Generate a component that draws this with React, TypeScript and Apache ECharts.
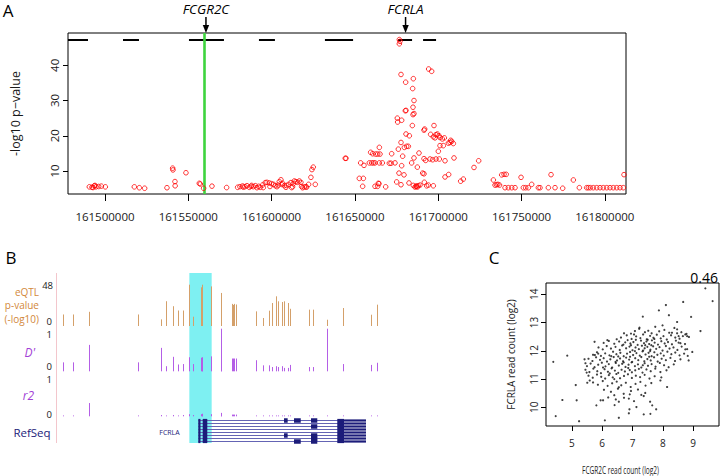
import React, { useEffect, useRef } from "react";
import * as echarts from "echarts";

const FONT = "'Open Sans', 'Liberation Sans', sans-serif";

// ---------- Panel A ----------
const A_XMIN = 161477800;
const A_XMAX = 161812700;
const A_YMIN = 3.47;
const A_YMAX = 49.17;
const aXTicks = [161500000, 161550000, 161600000, 161650000, 161700000, 161750000, 161800000];
const aYTicks = [10, 20, 30, 40];
const geneStarts = [161477800, 161510800, 161550400, 161592400, 161632000, 161675900, 161690900];
const geneEnds = [161489800, 161520400, 161571400, 161602000, 161648900, 161684300, 161698700];
const GENE_Y = 47.18;
const FCGR2C_POS = 161560600;
const FCRLA_POS = 161680400;
const GREEN_POS = 161559400;

const aPoints: number[][] = [
  [161490600, 5.5], [161492200, 5.4], [161493600, 5.8], [161494600, 5.5], [161496200, 5.6], [161497800, 5.7],
  [161500200, 5.5], [161494000, 5.9], [161492800, 5.3],
  [161517600, 5.5], [161520600, 5.25], [161523800, 5.1],
  [161537200, 5.25], [161540600, 10.8], [161540800, 10.3], [161542000, 7.0], [161542100, 5.8], [161548600, 9.5],
  [161556600, 6.5], [161557200, 6.3], [161559200, 5.1], [161564200, 5.7], [161573000, 5.3],
  [161579600, 5.37], [161581000, 5.55], [161582600, 5.74], [161584000, 5.55], [161585200, 5.83], [161586600, 5.37],
  [161587600, 5.65], [161589000, 5.55], [161590200, 5.83], [161591200, 5.26], [161592200, 5.65], [161593200, 5.37],
  [161594600, 6.03], [161596200, 6.7], [161597200, 6.78], [161598600, 6.6], [161600000, 6.4], [161601200, 6.2],
  [161602200, 5.83], [161603200, 5.55], [161604600, 6.97], [161605600, 7.5], [161606600, 6.5], [161607600, 5.83],
  [161608600, 5.37], [161610200, 6.2], [161611600, 6.7], [161612600, 5.55], [161613600, 7.16], [161614600, 6.97],
  [161615600, 6.78], [161616600, 7.16], [161617600, 6.78], [161618600, 5.26], [161619600, 5.46], [161620600, 5.55],
  [161622200, 6.2], [161623600, 8.2], [161624200, 10.4], [161625000, 11.1], [161626200, 6.2],
  [161583000, 5.4], [161588000, 5.9], [161595000, 5.3], [161599000, 5.6], [161606000, 6.2], [161609000, 5.9],
  [161612000, 5.3], [161618000, 5.6], [161621000, 5.4], [161613000, 6.4], [161604000, 6.0],
  [161644200, 13.6],
  [161676660, 47.3], [161677060, 46.8], [161676660, 46.1],
  [161677660, 37.4], [161694260, 38.95], [161696065, 38.3], [161680460, 35.2], [161685060, 36.2], [161684660, 33.4],
  [161685460, 30.0], [161684860, 28.1], [161680260, 27.1], [161680660, 27.2], [161684860, 26.0], [161685460, 26.3],
  [161675450, 25.0], [161678060, 24.4], [161675650, 23.9], [161684460, 22.9], [161691860, 21.9], [161691460, 21.6],
  [161697460, 22.9], [161680660, 20.5], [161682660, 20.0], [161695460, 20.4], [161697060, 19.7], [161698660, 20.3],
  [161699460, 20.5], [161700460, 20.0], [161698060, 19.4], [161701060, 19.5], [161702470, 19.1], [161703670, 19.4],
  [161677660, 18.1], [161679660, 16.7], [161681060, 17.0], [161682060, 17.0], [161664655, 16.7], [161676060, 16.2],
  [161706070, 17.9], [161707070, 18.1], [161708070, 18.4], [161709070, 17.8], [161707470, 18.7], [161701060, 17.2],
  [161703070, 17.2], [161700060, 15.6], [161659450, 15.3], [161660655, 14.9], [161662455, 14.8], [161663655, 14.8],
  [161665055, 14.8], [161672060, 14.9], [161688460, 15.1], [161644650, 13.6], [161678660, 14.2], [161685460, 13.7],
  [161691460, 13.5], [161692460, 13.0], [161695060, 13.4], [161698660, 13.4], [161700660, 13.4], [161696660, 13.2],
  [161704070, 12.9], [161709470, 13.7], [161653450, 12.3], [161655450, 11.6], [161658650, 12.3], [161660055, 12.3],
  [161661055, 12.3], [161662055, 12.3], [161664655, 12.3], [161666450, 12.3], [161670660, 12.2], [161671660, 12.2],
  [161674060, 12.3], [161684060, 12.3], [161687460, 11.1], [161678060, 11.5], [161721470, 11.0], [161724280, 12.9],
  [161676460, 9.4], [161679460, 8.9], [161690660, 9.4], [161691460, 9.2], [161706270, 9.0], [161704070, 8.3],
  [161652650, 7.9], [161655050, 7.9], [161654650, 5.65], [161664455, 6.4], [161663655, 5.65], [161662055, 5.65],
  [161668460, 5.5], [161675060, 6.9], [161677660, 6.1], [161682460, 6.6], [161685060, 5.9], [161686660, 5.65],
  [161688060, 5.8], [161689060, 6.0], [161687460, 5.45], [161686060, 5.45], [161691660, 6.8], [161693060, 5.8],
  [161697060, 5.8], [161713470, 7.1], [161715070, 7.7], [161664055, 6.5], [161687060, 5.74], [161694060, 6.0],
  [161733100, 7.45], [161734100, 6.0], [161735000, 6.1], [161735800, 6.2], [161736800, 6.0], [161738100, 8.9],
  [161739500, 9.05], [161740800, 9.05], [161740100, 5.26], [161742100, 5.26], [161744100, 5.26], [161746100, 5.26],
  [161749700, 8.2], [161751100, 5.26], [161752500, 5.26], [161754100, 5.26], [161756100, 6.2], [161760100, 5.26],
  [161761100, 5.26], [161766100, 5.26], [161767700, 8.96], [161770100, 5.26], [161774700, 5.1], [161781100, 7.45],
  [161784700, 5.26], [161789100, 5.26], [161790100, 5.26], [161791300, 5.26], [161793100, 5.26], [161795100, 5.26],
  [161797100, 5.26], [161799100, 5.26], [161801100, 5.26], [161803100, 5.26], [161805100, 5.26], [161807100, 5.26],
  [161809100, 5.26], [161811100, 5.26], [161811500, 8.96],
];

// ---------- Panel B (positions in kb from region start) ----------
const B_KB_MAX = 34.56;
const snpKb = [0.61, 1.74, 3.46, 8.63, 11.1, 11.66, 12.44, 12.98, 13.45, 14.16, 14.58, 15.4, 15.48, 15.56, 16.45,
  17.5, 17.6, 18.69, 18.83, 18.97, 19.15, 21.26, 22.07, 22.68, 23.04, 23.4, 23.68, 24.04, 24.29, 24.72, 24.93,
  27.0, 27.36, 28.92, 30.63, 33.57, 34.21];
const eqtlVal = [13.4, 13.4, 16.5, 13.4, 7.7, 28.8, 23, 18, 18, 48, 10.8, 45, 48, 30, 46,
  38.4, 24, 25.7, 24.5, 25.7, 25, 17, 9.3, 17.8, 26.7, 34.5, 28.7, 27.9, 28.7, 26.7, 20,
  19, 19, 7.3, 20.9, 13.1, 24.8];
const dprimeVal = [0.21, 0.21, 0.62, 0.21, 0.55, 0.12, 0.34, 0.16, 0.17, 0.33, 0.17, 0.32, 0.33, 0.3, 0.35,
  1.0, 0.36, 0.3, 0.3, 0.3, 0.3, 0.26, 0.14, 0.14, 0.1, 0.12, 0.1, 0.12, 0.08, 0.08, 0.15,
  0.1, 0.1, 1.0, 0.17, 0.15, 0.2];
const r2Val = [0.02, 0.02, 0.31, 0.02, 0.03, 0.02, 0.03, 0.02, 0.03, 0.05, 0.03, 0.05, 0.06, 0.05, 0.05,
  0.08, 0.06, 0.04, 0.04, 0.04, 0.04, 0.02, 0.02, 0.02, 0.02, 0.02, 0.02, 0.02, 0.02, 0.02, 0.02,
  0.02, 0.02, 0.02, 0.02, 0.02, 0.02];
const highlightKb = [14.16, 16.55];
const txStartKb = 15.12;
const txEndKb = 30.71;
const txCommonExons = [[15.12, 15.35], [15.59, 16.08], [29.99, 30.71]];
const txThick = [30.71, 33.06];
const txExtraExons: number[][][] = [
  [[24.29, 24.68], [25.36, 26.08], [27.18, 27.85]],
  [],
  [[27.18, 27.85]],
  [],
  [],
  [[24.29, 24.68], [27.18, 27.85]],
  [[27.18, 27.85]],
  [[25.36, 26.08], [27.18, 27.85]],
];

// ---------- Panel C ----------
const cXTicks = [5, 6, 7, 8, 9];
const cYTicks = [10, 11, 12, 13, 14];
const cPoints: number[][] = [
  [9.40, 14.21], [9.64, 13.76], [8.67, 13.73], [8.10, 13.62], [7.87, 13.43], [7.34, 13.21], [8.20, 13.26], [8.93, 13.20],
  [9.24, 12.70], [8.47, 13.02], [7.23, 12.82], [6.72, 12.62], [6.17, 12.38], [5.75, 12.32], [4.39, 11.61], [4.85, 11.83],
  [5.87, 11.90], [5.76, 11.85], [5.42, 11.70], [5.45, 11.56], [5.49, 11.23], [5.59, 10.95], [5.51, 10.87], [5.13, 10.79],
  [4.69, 10.26], [5.16, 10.25], [5.81, 10.07], [5.95, 10.25], [6.03, 10.25], [4.47, 9.69], [5.24, 9.51], [6.09, 9.54],
  [6.55, 9.63], [6.90, 9.93], [6.88, 9.79], [7.13, 10.01], [7.37, 9.75], [7.59, 9.77], [7.78, 9.93], [7.58, 10.20],
  [7.65, 10.07], [6.41, 10.08], [6.55, 10.20], [6.72, 10.34], [6.91, 10.46], [7.37, 10.40], [7.29, 10.44], [8.14, 10.72],
  [7.92, 10.95], [8.85, 11.66], [8.97, 11.96], [8.82, 11.82], [8.74, 12.05], [8.52, 12.29], [8.80, 12.52], [8.74, 12.58],
  [8.52, 12.52], [8.30, 12.64], [8.47, 12.76],
  [7.22, 12.78], [7.41, 12.66], [7.52, 12.71], [7.63, 12.62], [7.75, 12.85], [7.88, 12.69], [8.05, 12.74], [8.21, 12.64],
  [8.38, 12.81], [8.61, 12.66], [8.78, 12.60], [6.95, 12.61], [7.08, 12.70], [8.47, 12.62], [7.99, 12.90],
  [6.62, 12.47], [6.81, 12.55], [6.97, 12.42], [7.12, 12.51], [7.26, 12.45], [7.35, 12.58], [7.47, 12.41], [7.58, 12.53],
  [7.69, 12.46], [7.80, 12.57], [7.93, 12.44], [8.02, 12.52], [8.13, 12.40], [8.27, 12.55], [8.41, 12.47], [8.55, 12.43],
  [8.66, 12.52], [8.86, 12.49], [6.48, 12.41], [7.05, 12.58], [7.72, 12.42],
  [6.05, 12.28], [6.22, 12.35], [6.40, 12.25], [6.56, 12.33], [6.70, 12.22], [6.84, 12.38], [6.93, 12.26], [7.03, 12.31],
  [7.17, 12.21], [7.28, 12.36], [7.38, 12.27], [7.46, 12.33], [7.55, 12.24], [7.64, 12.37], [7.73, 12.29], [7.84, 12.22],
  [7.95, 12.34], [8.06, 12.26], [8.17, 12.31], [8.30, 12.23], [8.43, 12.36], [8.58, 12.27], [8.73, 12.24], [7.42, 12.20],
  [7.50, 12.39], [7.11, 12.39], [6.76, 12.30],
  [5.88, 12.12], [6.02, 12.05], [6.15, 12.17], [6.29, 12.08], [6.44, 12.14], [6.58, 12.03], [6.66, 12.19], [6.79, 12.09],
  [6.90, 12.15], [7.00, 12.02], [7.10, 12.12], [7.21, 12.06], [7.31, 12.18], [7.40, 12.09], [7.49, 12.14], [7.59, 12.04],
  [7.68, 12.16], [7.78, 12.07], [7.89, 12.13], [7.99, 12.01], [8.10, 12.17], [8.22, 12.08], [8.35, 12.12], [8.48, 12.03],
  [8.62, 12.15], [8.80, 12.06], [7.35, 12.01], [6.95, 12.20], [7.62, 12.20],
  [5.70, 11.86], [5.83, 11.95], [5.96, 11.82], [6.10, 11.91], [6.24, 11.84], [6.36, 11.97], [6.47, 11.88], [6.60, 11.93],
  [6.71, 11.81], [6.82, 11.90], [6.92, 11.96], [7.02, 11.85], [7.13, 11.92], [7.24, 11.83], [7.33, 11.98], [7.43, 11.87],
  [7.53, 11.93], [7.63, 11.81], [7.72, 11.95], [7.82, 11.86], [7.93, 11.91], [8.03, 11.83], [8.15, 11.97], [8.28, 11.88],
  [8.41, 11.94], [8.55, 11.84], [8.70, 11.90], [6.53, 11.80], [7.08, 11.99], [7.58, 11.99], [6.30, 11.81],
  [5.55, 11.72], [5.68, 11.64], [5.80, 11.77], [5.93, 11.68], [6.05, 11.74], [6.16, 11.62], [6.27, 11.70], [6.38, 11.78],
  [6.49, 11.66], [6.59, 11.73], [6.69, 11.63], [6.79, 11.76], [6.89, 11.69], [6.99, 11.61], [7.09, 11.74], [7.19, 11.67],
  [7.29, 11.78], [7.39, 11.63], [7.49, 11.71], [7.60, 11.66], [7.71, 11.77], [7.83, 11.62], [7.96, 11.72], [8.10, 11.67],
  [8.25, 11.75], [8.40, 11.64], [8.58, 11.70], [6.44, 11.61], [7.55, 11.79], [6.92, 11.79],
  [5.50, 11.46], [5.62, 11.55], [5.75, 11.42], [5.87, 11.51], [5.99, 11.58], [6.11, 11.45], [6.22, 11.53], [6.33, 11.41],
  [6.45, 11.57], [6.55, 11.48], [6.66, 11.54], [6.77, 11.43], [6.87, 11.51], [6.97, 11.59], [7.08, 11.46], [7.18, 11.52],
  [7.29, 11.41], [7.40, 11.56], [7.51, 11.47], [7.63, 11.53], [7.76, 11.44], [7.90, 11.57], [8.04, 11.49], [8.19, 11.42],
  [8.36, 11.52], [6.03, 11.41], [7.34, 11.49], [6.71, 11.59],
  [5.45, 11.33], [5.58, 11.25], [5.71, 11.37], [5.84, 11.28], [5.96, 11.21], [6.08, 11.35], [6.19, 11.26], [6.31, 11.38],
  [6.42, 11.30], [6.53, 11.22], [6.64, 11.33], [6.75, 11.27], [6.86, 11.39], [6.98, 11.24], [7.09, 11.31], [7.21, 11.36],
  [7.33, 11.23], [7.46, 11.34], [7.60, 11.28], [7.75, 11.37], [7.92, 11.25], [8.12, 11.31], [6.25, 11.20], [6.91, 11.32],
  [5.55, 11.12], [5.69, 11.05], [5.83, 11.16], [5.97, 11.08], [6.10, 11.02], [6.22, 11.14], [6.35, 11.06], [6.47, 11.18],
  [6.59, 11.03], [6.72, 11.11], [6.85, 11.17], [6.98, 11.04], [7.11, 11.12], [7.25, 11.07], [7.40, 11.15], [7.56, 11.02],
  [7.73, 11.10], [7.95, 11.06], [6.40, 11.00],
  [5.70, 10.88], [5.86, 10.80], [6.02, 10.93], [6.18, 10.76], [6.33, 10.85], [6.48, 10.91], [6.63, 10.78], [6.78, 10.87],
  [6.94, 10.72], [7.10, 10.83], [7.26, 10.90], [7.43, 10.77], [7.62, 10.86], [6.55, 10.71],
  [6.06, 10.62], [6.29, 10.55], [6.52, 10.66], [6.71, 10.48], [6.95, 10.58], [7.18, 10.63], [7.42, 10.51], [6.40, 10.43],
  [6.20, 10.35], [6.45, 10.28], [6.88, 10.31], [7.05, 10.22],
];
const corrLabel = "0.46";

const EQTL_COLOR = "#d4a06a";
const PURPLE_BAR = "#b45ee6";
const PURPLE_TEXT = "#a33fd6";
const NAVY = "#1c1c7a";

function barSeries(axisIdx: number, xs: number[], vals: number[], color: string) {
  return {
    type: "custom",
    xAxisIndex: axisIdx,
    yAxisIndex: axisIdx,
    silent: true,
    z: 3,
    data: xs.map((x, i) => [x, vals[i]]),
    renderItem: (_p: any, api: any) => {
      const x = api.value(0);
      const v = api.value(1);
      const p0 = api.coord([x, 0]);
      const p1 = api.coord([x, v]);
      const px = Math.round(p0[0]) + 0.5;
      return {
        type: "line",
        shape: { x1: px, y1: p0[1], x2: px, y2: Math.min(p1[1], p0[1] - 0.8) },
        style: { stroke: color, lineWidth: 1 },
      };
    },
  };
}

export default function App() {
  const ref = useRef<HTMLDivElement>(null);

  useEffect(() => {
    if (!ref.current) return;
    const chart = echarts.init(ref.current, null, { renderer: "svg" });

    const txData: number[][] = [];
    txExtraExons.forEach((extra, row) => {
      txData.push([row, txStartKb, txEndKb, 0]);
      txCommonExons.forEach((e) => txData.push([row, e[0], e[1], 1]));
      txData.push([row, txThick[0], txThick[1], 2]);
      extra.forEach((e) => txData.push([row, e[0], e[1], 3]));
    });

    const bGrid = (top: number, height: number) => ({
      left: 57, top, width: 323, height, outerBoundsMode: "none",
    });

    const option: any = {
      animation: false,
      backgroundColor: "#ffffff",
      textStyle: { fontFamily: FONT },
      grid: [
        { left: 68, top: 33, width: 558, height: 161, show: true, borderColor: "#000", borderWidth: 1, backgroundColor: "transparent", outerBoundsMode: "none" },
        bGrid(284.7, 41.3),
        bGrid(328.7, 42.6),
        bGrid(373.5, 42.8),
        bGrid(419, 24),
        { left: 546, top: 283, width: 173, height: 143, show: true, borderColor: "#000", borderWidth: 1, backgroundColor: "transparent", outerBoundsMode: "none" },
      ],
      xAxis: [
        {
          gridIndex: 0, type: "value", min: A_XMIN, max: A_XMAX,
          axisLine: { show: false }, splitLine: { show: false },
          axisTick: { show: true, customValues: aXTicks, length: 7, lineStyle: { color: "#000", width: 1 } },
          axisLabel: { customValues: aXTicks, formatter: (v: number) => String(v), fontSize: 11.5, color: "#1a1a1a", margin: 16, fontFamily: FONT },
        },
        { gridIndex: 1, type: "value", min: 0, max: B_KB_MAX, show: false },
        { gridIndex: 2, type: "value", min: 0, max: B_KB_MAX, show: false },
        { gridIndex: 3, type: "value", min: 0, max: B_KB_MAX, show: false },
        { gridIndex: 4, type: "value", min: 0, max: B_KB_MAX, show: false },
        {
          gridIndex: 5, type: "value", min: 4.15, max: 9.85,
          axisLine: { show: false }, splitLine: { show: false },
          axisTick: { show: true, customValues: cXTicks, length: 5, lineStyle: { color: "#000" } },
          axisLabel: { customValues: cXTicks, fontSize: 10, color: "#222", margin: 12, fontFamily: FONT },
        },
      ],
      yAxis: [
        {
          gridIndex: 0, type: "value", min: A_YMIN, max: A_YMAX,
          axisLine: { show: false }, splitLine: { show: false },
          axisTick: { show: true, customValues: aYTicks, length: 5, lineStyle: { color: "#000" } },
          axisLabel: { customValues: aYTicks, rotate: 90, fontSize: 11.5, color: "#1a1a1a", margin: 8, fontFamily: FONT },
          name: "-log10 p\u2212value", nameLocation: "middle", nameGap: 46,
          nameTextStyle: { fontSize: 12.5, color: "#1a1a1a", fontFamily: FONT },
        },
        { gridIndex: 1, type: "value", min: 0, max: 48, show: false },
        { gridIndex: 2, type: "value", min: 0, max: 1, show: false },
        { gridIndex: 3, type: "value", min: 0, max: 1, show: false },
        { gridIndex: 4, type: "value", min: 0, max: 8, inverse: true, show: false },
        {
          gridIndex: 5, type: "value", min: 9.34, max: 14.4,
          axisLine: { show: false }, splitLine: { show: false },
          axisTick: { show: true, customValues: cYTicks, length: 5, lineStyle: { color: "#000" } },
          axisLabel: { customValues: cYTicks, rotate: 90, fontSize: 10, color: "#222", margin: 7, fontFamily: FONT },
          name: "FCRLA read count (log2)", nameLocation: "middle", nameGap: 30,
          nameTextStyle: { fontSize: 10, color: "#222", fontFamily: FONT },
        },
      ],
      series: [
        {
          type: "custom",
          xAxisIndex: 0, yAxisIndex: 0, silent: true, z: 2,
          data: geneStarts.map((s, i) => [s, geneEnds[i]]),
          renderItem: (_p: any, api: any) => {
            const a = api.coord([api.value(0), GENE_Y]);
            const b = api.coord([api.value(1), GENE_Y]);
            return { type: "line", shape: { x1: a[0], y1: a[1], x2: b[0], y2: b[1] }, style: { stroke: "#000", lineWidth: 2 } };
          },
        },
        {
          type: "scatter",
          xAxisIndex: 0, yAxisIndex: 0, silent: true, z: 4,
          data: aPoints,
          symbol: "circle",
          symbolSize: 4.6,
          itemStyle: { color: "rgba(255,255,255,0)", borderColor: "#ff0000", borderWidth: 1 },
          markLine: {
            silent: true, symbol: ["none", "none"], z: 3,
            label: { show: false },
            lineStyle: { color: "#3ed43e", width: 2.6, type: "solid" },
            data: [{ xAxis: GREEN_POS }],
          },
        },
        barSeries(1, snpKb, eqtlVal, EQTL_COLOR),
        barSeries(2, snpKb, dprimeVal, PURPLE_BAR),
        barSeries(3, snpKb, r2Val, PURPLE_BAR),
        {
          type: "custom",
          xAxisIndex: 4, yAxisIndex: 4, silent: true, z: 3,
          data: txData,
          renderItem: (_p: any, api: any) => {
            const row = api.value(0);
            const s = api.value(1);
            const e = api.value(2);
            const k = api.value(3);
            const p0 = api.coord([s, row + 0.5]);
            const p1 = api.coord([e, row + 0.5]);
            const h = k === 0 ? 0.8 : k === 1 ? 3.2 : k === 2 ? 2.2 : 4.5;
            return {
              type: "rect",
              shape: { x: p0[0], y: p0[1] - h / 2, width: Math.max(p1[0] - p0[0], 1), height: h },
              style: { fill: k === 0 ? "#6464b4" : NAVY },
            };
          },
        },
        {
          type: "scatter",
          xAxisIndex: 5, yAxisIndex: 5, silent: true,
          data: cPoints,
          symbol: "circle",
          symbolSize: 2.2,
          itemStyle: { color: "#111" },
        },
      ],
    };

    chart.setOption(option);

    const toPx = (g: number, pt: number[]) => chart.convertToPixel({ gridIndex: g } as any, pt) as number[];
    const txt = (text: string, x: number, y: number, opts: any = {}) => {
      const fs = opts.fontSize || 11;
      return {
        type: "text",
        x, y, z: 100,
        rotation: opts.rotation || 0,
        scaleX: opts.scaleX || 1,
        style: {
          text,
          fill: opts.fill || "#1a1a1a",
          fontSize: fs,
          lineHeight: opts.lineHeight || Math.round(fs * 0.95),
          fontStyle: opts.italic ? "italic" : "normal",
          fontFamily: FONT,
          textAlign: opts.align || "center",
          textVerticalAlign: "middle",
          align: opts.align || "center",
          verticalAlign: "middle",
        },
      };
    };

    const arrow = (pos: number, label: string) => {
      const [x, topY] = toPx(0, [pos, A_YMAX]);
      return [
        { type: "line", z: 100, shape: { x1: x, y1: topY - 16, x2: x, y2: topY - 6 }, style: { stroke: "#000", lineWidth: 1.5 } },
        { type: "polygon", z: 100, shape: { points: [[x - 3.2, topY - 8], [x + 3.2, topY - 8], [x, topY]] }, style: { fill: "#000" } },
        txt(label, x, topY - 24, { italic: true, fontSize: 13.5, fill: "#000" }),
      ];
    };

    const hl0 = toPx(1, [highlightKb[0], 0])[0];
    const hl1 = toPx(1, [highlightKb[1], 0])[0];
    const cX = toPx(5, [7, 9.34]);

    const tick = { align: "right", fontSize: 9.5, lineHeight: 9 };
    const graphics: any[] = [
      ...arrow(FCGR2C_POS, "FCGR2C"),
      ...arrow(FCRLA_POS, "FCRLA"),
      { type: "rect", z: -10, shape: { x: hl0, y: 273, width: hl1 - hl0, height: 170 }, style: { fill: "#7ef0f2" } },
      { type: "line", z: 1, shape: { x1: 56.5, y1: 273, x2: 56.5, y2: 443 }, style: { stroke: "#f3c6cc", lineWidth: 1 } },
      txt("A", 8, 10, { fontSize: 17, fill: "#000" }),
      txt("B", 11, 257, { fontSize: 17, fill: "#000" }),
      txt("C", 494, 257, { fontSize: 17, fill: "#000" }),
      txt("eQTL", 39, 291.5, { align: "right", fill: "#d2883a", fontSize: 10, lineHeight: 10 }),
      txt("p-value", 39, 305, { align: "right", fill: "#d2883a", fontSize: 10, lineHeight: 10 }),
      txt("(-log10)", 39, 318.5, { align: "right", fill: "#d2883a", fontSize: 10, lineHeight: 10 }),
      txt("48", 53, 285, tick),
      txt("0", 52, 321.5, tick),
      txt("1", 52, 334.5, tick),
      txt("D'", 35, 352, { align: "right", italic: true, fill: PURPLE_TEXT, fontSize: 12 }),
      txt("0", 52, 366, tick),
      txt("1", 52, 379, tick),
      txt("r2", 34, 395, { align: "right", italic: true, fill: PURPLE_TEXT, fontSize: 12 }),
      txt("0", 52, 414, tick),
      txt("RefSeq", 32, 432, { fill: NAVY, fontSize: 11.5 }),
      txt("FCRLA", 169.5, 432, { fill: NAVY, fontSize: 7 }),
      txt(corrLabel, 718, 277, { align: "right", fontSize: 14, fill: "#000" }),
      txt("FCGR2C read count (log2)", cX[0] - 12, 470, { fontSize: 10.5, scaleX: 0.62, fill: "#222" }),
    ];
    chart.setOption({ graphic: { elements: graphics } });

    return () => chart.dispose();
  }, []);

  return (
    <div
      ref={ref}
      style={{ position: "fixed", left: 0, top: 0, width: 720, height: 476, background: "#fff" }}
    />
  );
}
